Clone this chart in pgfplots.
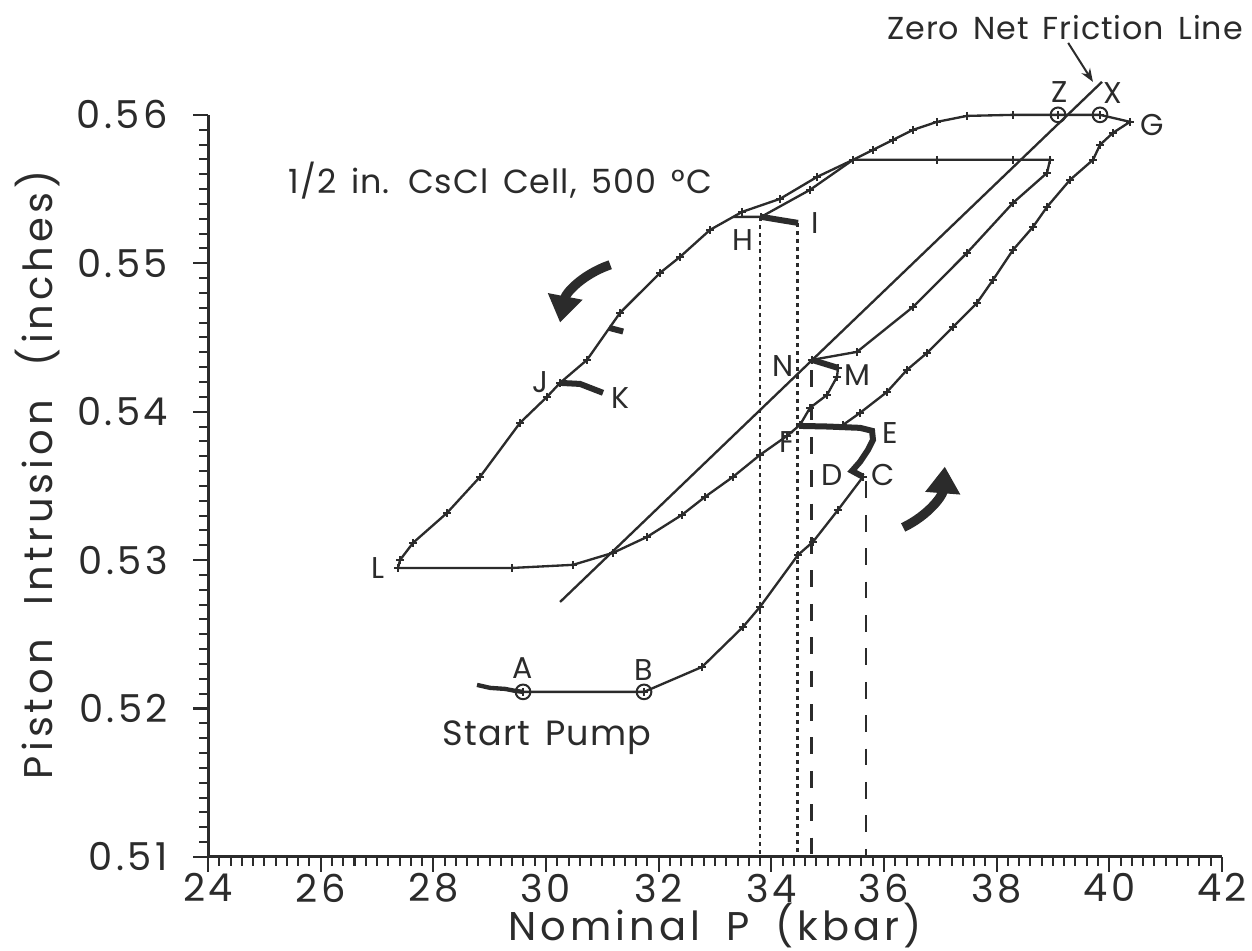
\documentclass[border=0pt]{standalone}
\usepackage{pgfplots}
\pgfplotsset{compat=1.18}
\usepackage{fontspec}
\setmainfont[LetterSpace=3, WordSpace=1.5]{Poppins}
\newfontfamily\tickfont[LetterSpace=9]{Poppins}
\newfontfamily\labfont[LetterSpace=10]{Poppins}
\usetikzlibrary{arrows.meta,calc}
\definecolor{ink}{rgb}{0.17,0.17,0.17}
\begin{document}
\begin{tikzpicture}
\begin{axis}[name=ax, scale only axis, width=303.6pt, height=222.2pt,
  xmin=24, xmax=42, ymin=0.51, ymax=0.56,
  axis x line=bottom, axis y line=left,
  axis line style={-, line width=0.9pt, ink},
  xtick={24,26,...,42}, ytick={0.51,0.52,0.53,0.54,0.55,0.56},
  minor x tick num=9, minor y tick num=9,
  tick align=outside, major tick length=4.5pt, minor tick length=2.6pt,
  tick style={ink, line width=0.6pt},
  scaled y ticks=false,
  cycle list={{ink, mark=none}},
  /pgf/number format/assume math mode=true,
  yticklabel style={/pgf/number format/fixed, /pgf/number format/precision=2, /pgf/number format/fixed zerofill, xshift=-4pt},
  xticklabel style={yshift=3pt},
  tick label style={font=\tickfont\fontsize{11.5}{13}\selectfont, text=ink},
  every axis x label/.style={at={(axis description cs:0.5,-0.093)}, anchor=center, font=\labfont\fontsize{12}{14}\selectfont},
  every axis y label/.style={at={(axis description cs:-0.168,0.515)}, rotate=90, anchor=center, font=\labfont\fontsize{12}{14}\selectfont},
  label style={text=ink},
  xlabel={Nominal\hspace{0.65em}P\hspace{0.65em}(kbar)}, ylabel={Piston\hspace{0.85em}Intrusion\hspace{0.85em}(inches)},
  clip=false,
  every axis plot/.append style={ink, line width=0.7pt},
]
% start pump scribble
\addplot[line width=1.3pt] coordinates {(28.775,0.52159) (29.006,0.52139) (29.273,0.52132) (29.450,0.52119) (29.592,0.52112)};
% A -> B -> C
\addplot[mark=+, mark size=1.2pt] coordinates {(29.592,0.52112) (31.740,0.52112) (32.770,0.52280) (33.498,0.52550) (33.800,0.52685) (34.474,0.53035) (34.740,0.53123) (35.184,0.53338) (35.628,0.53561)};
% C -> D -> E -> F (thick)
\addplot[line width=1.8pt] coordinates {(35.628,0.53561) (35.433,0.53601) (35.575,0.53662) (35.717,0.53743) (35.805,0.53810) (35.788,0.53871) (35.575,0.53891) (35.0,0.53900) (34.509,0.53904)};
% rising to G, top to Z, descending to L
\addplot[mark=+, mark size=1.2pt] coordinates {(35.273,0.53911) (35.575,0.53992) (36.054,0.54133) (36.409,0.54282) (36.764,0.54396) (37.226,0.54571) (37.652,0.54733) (37.936,0.54888) (38.291,0.55090) (38.646,0.55245) (38.895,0.55380) (39.303,0.55562) (39.711,0.55697) (39.835,0.55798) (40.066,0.55879) (40.368,0.55953)
 (39.835,0.5600) (39.090,0.5600) (38.291,0.5600) (37.474,0.55993) (36.942,0.55953) (36.516,0.55899) (36.161,0.55832) (35.806,0.55764) (35.451,0.55697) (34.812,0.55582) (34.154,0.55434) (33.480,0.55346) (32.912,0.55225) (32.379,0.55043) (32.024,0.54935) (31.314,0.54666) (30.728,0.54349) (30.249,0.54194) (30.018,0.54100) (29.539,0.53925) (28.829,0.53561) (28.243,0.53318) (27.639,0.53116) (27.409,0.53001) (27.373,0.52947)};
% L -> M
\addplot[mark=+, mark size=1.2pt] coordinates {(27.373,0.52947) (29.397,0.52947) (30.480,0.52968) (31.190,0.53049) (31.793,0.53156) (32.415,0.53305) (32.823,0.53426) (33.320,0.53561) (33.800,0.53709) (34.279,0.53837) (34.509,0.53911) (34.687,0.54026) (34.989,0.54113) (35.166,0.54235) (35.184,0.54295)};
% M -> N thick
\addplot[line width=1.8pt] coordinates {(35.184,0.54295) (34.953,0.54322) (34.722,0.54349)};
% N -> second loop -> H
\addplot[mark=+, mark size=1.2pt] coordinates {(34.722,0.54349) (35.521,0.54403) (36.516,0.54706) (37.474,0.55070) (38.291,0.55407) (38.895,0.55609) (38.948,0.55697) (38.291,0.55697) (36.942,0.55697) (35.451,0.55697) (34.688,0.55495) (33.82,0.55313)};
% H -> I thick
\addplot[line width=1.8pt] coordinates {(33.82,0.55313) (34.1,0.55295) (34.474,0.55272)};
% H -> join
\addplot coordinates {(33.82,0.55313) (33.32,0.55312)};
% J -> K thick
\addplot[line width=1.8pt] coordinates {(30.249,0.54194) (30.604,0.54187) (31.012,0.54127)};
% small blob
\addplot[line width=1.8pt] coordinates {(31.12,0.54565) (31.37,0.54540)};
% zero net friction line
\addplot coordinates {(30.25,0.52718) (39.87,0.56222)};
% vertical dotted / dashed lines
\addplot[line width=0.8pt, dash pattern=on 1.2pt off 1.2pt] coordinates {(33.80,0.55313) (33.80,0.51)};
\addplot[line width=0.8pt, dash pattern=on 1.2pt off 1.2pt] coordinates {(34.46,0.55272) (34.46,0.51)};
\addplot[line width=0.8pt, dash pattern=on 5pt off 5pt] coordinates {(34.71,0.5428) (34.71,0.51)};
\addplot[line width=0.8pt, dash pattern=on 5pt off 5pt] coordinates {(35.68,0.5353) (35.68,0.51)};
% open circles
\addplot[only marks, mark=o, mark size=2.2pt, line width=0.6pt] coordinates {(29.592,0.52112) (31.740,0.52112) (39.090,0.5600) (39.835,0.5600)};

% curved arrows
\draw[ink, line width=2.8pt, -{Triangle[length=8pt,width=10pt]}] (axis cs:31.14,0.5499) to[bend right=30] (axis cs:30.25,0.5460);
\draw[ink, line width=2.8pt, -{Triangle[length=8pt,width=10pt]}] (axis cs:36.34,0.5322) to[bend right=30] (axis cs:37.08,0.5363);
\draw[ink, line width=0.6pt, -{Stealth[length=4pt,width=3pt]}] (axis cs:39.27,0.56485) -- (axis cs:39.71,0.56222);

% labels
\begin{scope}[every node/.style={font=\fontsize{9}{10}\selectfont, text=ink, inner sep=0pt}]
\node at (axis cs:29.592,0.52274) {A};
\node at (axis cs:31.740,0.52260) {B};
\node at (axis cs:35.983,0.53574) {C};
\node at (axis cs:35.078,0.53574) {D};
\node at (axis cs:36.107,0.53857) {E};
\node at (axis cs:34.279,0.53797) {F};
\node at (axis cs:40.759,0.55933) {G};
\node at (axis cs:33.498,0.55158) {H};
\node at (axis cs:34.776,0.55272) {I};
\node at (axis cs:29.894,0.54201) {J};
\node at (axis cs:31.314,0.54093) {K};
\node at (axis cs:27.018,0.52947) {L};
\node at (axis cs:35.521,0.54248) {M};
\node at (axis cs:34.208,0.54309) {N};
\node at (axis cs:39.125,0.56155) {Z};
\node at (axis cs:40.066,0.56148) {X};
\end{scope}
\node[font=\fontsize{10.5}{12}\selectfont, text=ink] at (axis cs:30.018,0.51802) {Start Pump};
\node[font=\fontsize{10}{12}\selectfont, text=ink, anchor=west] at (axis cs:25.22,0.5556) {1/2 in. CsCl Cell, 500 °C};
\node[font=\fontsize{9.5}{11}\selectfont, text=ink] at (axis cs:39.214,0.56586) {Zero Net Friction Line};
\end{axis}
\pgfresetboundingbox
\path[use as bounding box] ($(ax.south west)+(-62.3pt,-28.1pt)$) rectangle ($(ax.north east)+(9pt,34.4pt)$);
\end{tikzpicture}
\end{document}
